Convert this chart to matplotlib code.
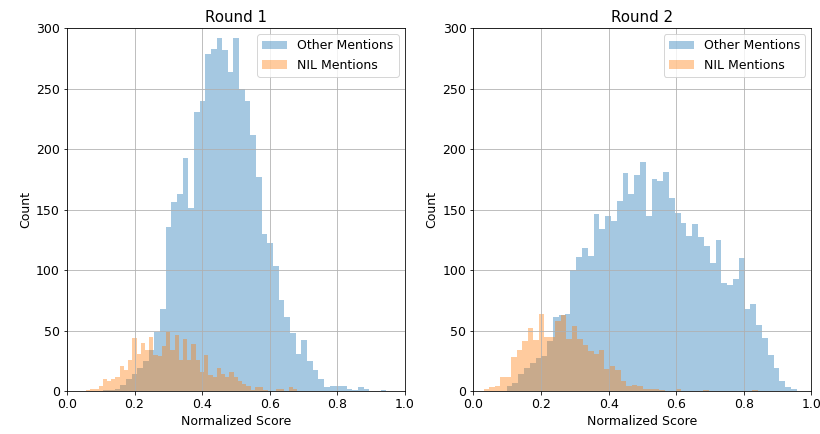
import numpy as np
import matplotlib
matplotlib.use("Agg")
import matplotlib.pyplot as plt

# bin ranges (min, max score) for each histogram, 50 bins each
r1_other_range = (0.1076, 0.945)
r1_nil_range = (0.056, 0.681)
r2_other_range = (0.0978, 0.957)
r2_nil_range = (0.031, 0.842)

# counts per bin
r1_other = [1, 1, 2, 5, 10, 14, 19, 25, 34, 49,
            68, 136, 156, 163, 193, 151, 231, 240, 279, 283,
            292, 282, 264, 292, 250, 240, 212, 177, 130, 122,
            103, 75, 61, 48, 31, 42, 25, 17, 10, 3,
            4, 4, 4, 2, 1, 3, 2, 0, 0, 1]
r1_nil = [1, 2, 2, 4, 10, 8, 10, 12, 21, 17,
          26, 44, 31, 40, 34, 45, 30, 29, 37, 49,
          34, 46, 26, 43, 26, 39, 26, 16, 30, 13,
          12, 19, 14, 12, 16, 12, 8, 6, 4, 1,
          3, 3, 1, 0, 0, 2, 2, 0, 3, 2]
r2_other = [4, 7, 14, 19, 23, 27, 29, 41, 61, 63,
            64, 100, 111, 118, 112, 146, 134, 145, 141, 157,
            180, 163, 179, 189, 145, 175, 174, 181, 160, 147,
            139, 128, 138, 127, 120, 106, 125, 89, 88, 93,
            110, 68, 72, 55, 44, 30, 19, 8, 3, 2]
r2_nil = [2, 3, 4, 12, 12, 28, 34, 41, 52, 42,
          64, 45, 45, 58, 63, 43, 54, 43, 38, 33,
          31, 34, 18, 21, 17, 8, 4, 5, 4, 2,
          2, 2, 1, 0, 0, 2, 0, 0, 0, 0,
          1, 0, 0, 0, 0, 0, 0, 0, 0, 1]

rounds = [("Round 1", r1_other, r1_other_range, r1_nil, r1_nil_range),
          ("Round 2", r2_other, r2_other_range, r2_nil, r2_nil_range)]

plt.rcParams["font.size"] = 12.5
plt.rcParams["axes.titlesize"] = 15

fig = plt.figure(figsize=(820 / 72, 434 / 72), dpi=72)
positions = [[0.0817, 0.099, 0.412, 0.836], [0.5774, 0.099, 0.412, 0.836]]

for pos, (title, other, other_rng, nil, nil_rng) in zip(positions, rounds):
    ax = fig.add_axes(pos)
    e_other = np.linspace(other_rng[0], other_rng[1], len(other) + 1)
    e_nil = np.linspace(nil_rng[0], nil_rng[1], len(nil) + 1)
    ax.hist(e_other[:-1], bins=e_other, weights=other, alpha=0.4, label="Other Mentions")
    ax.hist(e_nil[:-1], bins=e_nil, weights=nil, alpha=0.4, label="NIL Mentions")
    ax.set_xlim(0, 1)
    ax.set_ylim(0, 300)
    ax.grid(True)
    ax.set_title(title)
    ax.set_xlabel("Normalized Score")
    ax.set_ylabel("Count")
    ax.legend(loc="upper right")

fig.savefig("out.png", dpi=72)
